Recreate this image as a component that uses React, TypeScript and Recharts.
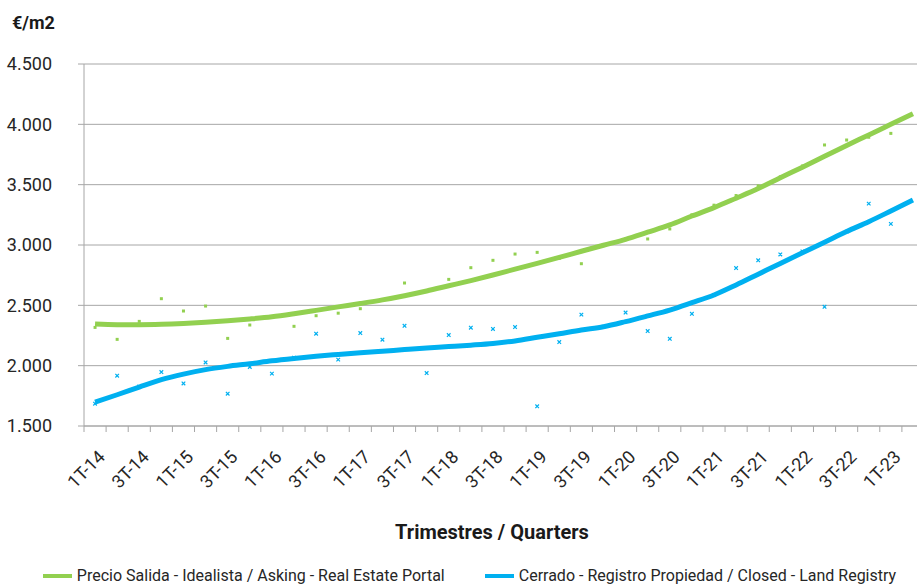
import React from 'react';
import { ComposedChart, Line, Scatter, XAxis, YAxis, CartesianGrid, Legend } from 'recharts';

const quarters = [
  '1T-14', '2T-14', '3T-14', '4T-14', '1T-15', '2T-15', '3T-15', '4T-15',
  '1T-16', '2T-16', '3T-16', '4T-16', '1T-17', '2T-17', '3T-17', '4T-17',
  '1T-18', '2T-18', '3T-18', '4T-18', '1T-19', '2T-19', '3T-19', '4T-19',
  '1T-20', '2T-20', '3T-20', '4T-20', '1T-21', '2T-21', '3T-21', '4T-21',
  '1T-22', '2T-22', '3T-22', '4T-22', '1T-23', '2T-23',
];

// quarterly observations (scatter)
const askingPrice = [
  2317, 2218, 2367, 2555, 2453, 2494, 2226, 2337, 2400, 2326, 2414, 2435,
  2472, 2540, 2685, 2616, 2715, 2812, 2873, 2925, 2939, 2889, 2845, 3000,
  3050, 3050, 3133, 3250, 3330, 3410, 3490, 3565, 3655, 3829, 3870, 3893,
  3925, null,
];
const closedPrice = [
  1685, 1917, 1828, 1947, 1853, 2027, 1768, 1989, 1934, 2066, 2265, 2050,
  2270, 2215, 2330, 1939, 2254, 2315, 2304, 2320, 1663, 2196, 2423, 2323,
  2440, 2287, 2223, 2430, 2585, 2809, 2873, 2922, 2947, 2488, 3111, 3343,
  3175, null,
];

// trend lines
const askingTrend = [
  2345, 2340, 2340, 2343, 2350, 2360, 2372, 2387, 2405, 2430, 2458, 2487,
  2515, 2545, 2580, 2619, 2662, 2705, 2751, 2800, 2848, 2897, 2948, 2998,
  3047, 3106, 3166, 3240, 3310, 3388, 3468, 3557, 3645, 3735, 3825, 3912,
  4000, 4088,
];
const closedTrend = [
  1698, 1759, 1823, 1884, 1930, 1967, 1994, 2016, 2040, 2060, 2078, 2093,
  2107, 2120, 2133, 2146, 2158, 2170, 2184, 2205, 2235, 2265, 2296, 2323,
  2365, 2412, 2461, 2522, 2586, 2669, 2758, 2847, 2935, 3023, 3112, 3193,
  3282, 3373,
];

const yTicks = [1500, 2000, 2500, 3000, 3500, 4000, 4500];
const seriesNames = [
  'Precio Salida - Idealista / Asking - Real Estate Portal',
  'Cerrado - Registro Propiedad / Closed - Land Registry',
];

const GREEN = '#92D050';
const BLUE = '#00B0F0';
const GRID = '#A6A6A6';
const FONT = 'Roboto, sans-serif';

const data = quarters.map((q, i) => ({
  q,
  asking: askingPrice[i],
  closed: closedPrice[i],
  askingT: askingTrend[i],
  closedT: closedTrend[i],
}));

const GreenDot = (p: any) => {
  if (p.cx == null || p.cy == null || p.payload?.asking == null) return <g />;
  return <rect x={p.cx - 1.5} y={p.cy - 1.5} width={3} height={3} fill={GREEN} />;
};

const BlueCross = (p: any) => {
  if (p.cx == null || p.cy == null || p.payload?.closed == null) return <g />;
  const { cx, cy } = p;
  return (
    <path
      d={`M${cx - 1.8},${cy - 1.8}L${cx + 1.8},${cy + 1.8}M${cx + 1.8},${cy - 1.8}L${cx - 1.8},${cy + 1.8}`}
      stroke={BLUE}
      strokeWidth={1.2}
    />
  );
};

// label every other quarter; tick marks sit on the band edges
const QuarterTick = (props: any) => {
  const { x, y, payload } = props;
  const half = payload.offset ?? 0;
  return (
    <g>
      {half > 0 && (
        <>
          <line x1={x - half} x2={x - half} y1={y} y2={y + 6} stroke={GRID} />
          <line x1={x + half} x2={x + half} y1={y} y2={y + 6} stroke={GRID} />
        </>
      )}
      <g transform={`translate(${x + 11},${y + 32})`}>
        <text x={0} y={0} textAnchor="end" transform="rotate(-45)" fill="#262626" fontSize={18} fontFamily={FONT}>
          {payload.value}
        </text>
      </g>
    </g>
  );
};

const LegendContent = () => (
  <div style={{ display: 'flex', justifyContent: 'center', alignItems: 'center', paddingLeft: 15, fontFamily: FONT, fontSize: 16, color: '#262626', lineHeight: '22px' }}>
    {[GREEN, BLUE].map((c, i) => (
      <div key={i} style={{ display: 'flex', alignItems: 'center', marginRight: i === 0 ? 40 : 0 }}>
        <div style={{ width: 29, height: 4, background: c, marginRight: 5 }} />
        <span>{seriesNames[i]}</span>
      </div>
    ))}
  </div>
);

export default function App() {
  return (
    <div style={{ position: 'absolute', left: 0, top: 0, width: 917, height: 587, overflow: 'hidden', background: '#fff' }}>
      <div style={{ position: 'absolute', left: 12, top: 14, fontFamily: FONT, fontWeight: 700, fontSize: 18, lineHeight: '18px', color: '#1a1a1a', zIndex: 2 }}>
        €/m2
      </div>
      <ComposedChart width={940} height={587} data={data} margin={{ top: 64, right: 16, left: 0, bottom: 0 }}>
        <CartesianGrid vertical={false} stroke={GRID} strokeWidth={1} />
        <XAxis
          dataKey="q"
          scale="band"
          interval={1}
          height={139}
          tickSize={0}
          tickMargin={0}
          tickLine={false}
          axisLine={{ stroke: GRID }}
          tick={<QuarterTick />}
          label={{ value: 'Trimestres / Quarters', position: 'insideBottom', offset: 26, dx: -12, style: { fontFamily: FONT, fontWeight: 700, fontSize: 20, fill: '#1a1a1a' } }}
        />
        <YAxis
          domain={[1500, 4500]}
          ticks={yTicks}
          width={84}
          axisLine={{ stroke: GRID }}
          tickLine={{ stroke: GRID }}
          tickSize={6}
          tickMargin={26}
          tickFormatter={(v: number) => v.toLocaleString('de-DE')}
          tick={{ fill: '#262626', fontSize: 18, fontFamily: FONT }}
        />
        <Legend verticalAlign="bottom" height={22} content={<LegendContent />} />
        <Line type="monotone" dataKey="askingT" name={seriesNames[0]} stroke={GREEN} strokeWidth={5} dot={false} isAnimationActive={false} />
        <Line type="monotone" dataKey="closedT" name={seriesNames[1]} stroke={BLUE} strokeWidth={5} dot={false} isAnimationActive={false} />
        <Scatter dataKey="asking" shape={<GreenDot />} legendType="none" isAnimationActive={false} />
        <Scatter dataKey="closed" shape={<BlueCross />} legendType="none" isAnimationActive={false} />
      </ComposedChart>
    </div>
  );
}
